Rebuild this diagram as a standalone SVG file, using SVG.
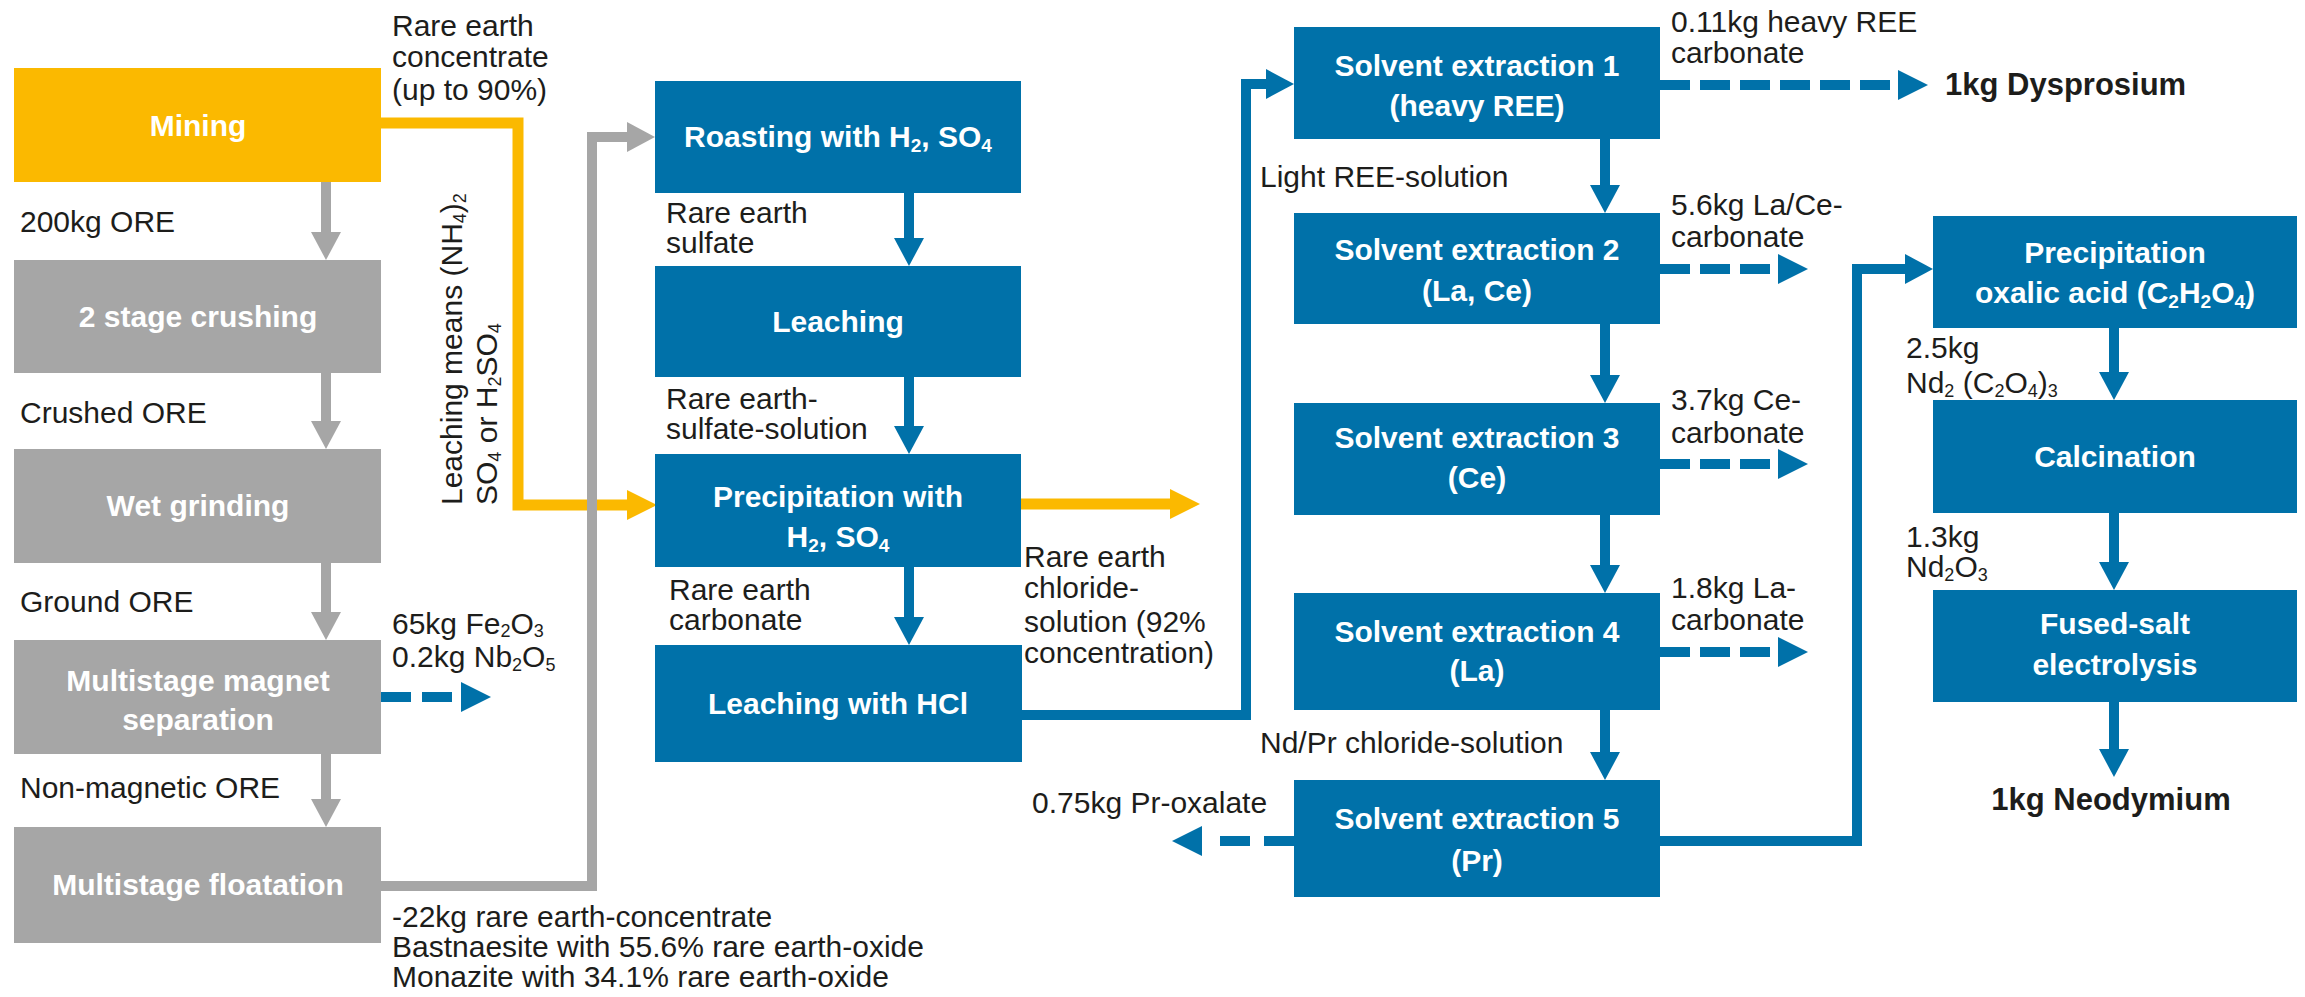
<svg xmlns="http://www.w3.org/2000/svg" width="2305" height="997" viewBox="0 0 2305 997">
<style>
.lbl{font-family:"Liberation Sans",Arial,sans-serif;font-size:30px;fill:#1d1d1b}
.bt{font-family:"Liberation Sans",Arial,sans-serif;font-size:30px;font-weight:bold;fill:#fff;text-anchor:middle}
.end{font-family:"Liberation Sans",Arial,sans-serif;font-size:31px;font-weight:bold;fill:#1d1d1b}
.s{font-size:19px}
.ls{font-size:18px}
.gray{fill:#a6a6a6}
.yel{fill:#fbb900}
.blue{fill:#0071a9}
.cg{fill:none;stroke:#a6a6a6;stroke-width:10;stroke-linejoin:miter}
.cy{fill:none;stroke:#fbb900;stroke-width:11;stroke-linejoin:miter}
.cb{fill:none;stroke:#0071a9;stroke-width:10;stroke-linejoin:miter}
.cd{fill:none;stroke:#0071a9;stroke-width:10;stroke-dasharray:30 10}
</style>
<defs>
<marker id="mg" markerUnits="userSpaceOnUse" markerWidth="28" markerHeight="30" refX="0" refY="15" orient="auto"><path d="M0,0 L28,15 L0,30 Z" fill="#a6a6a6"/></marker>
<marker id="my" markerUnits="userSpaceOnUse" markerWidth="30" markerHeight="30" refX="0" refY="15" orient="auto"><path d="M0,0 L30,15 L0,30 Z" fill="#fbb900"/></marker>
<marker id="mb" markerUnits="userSpaceOnUse" markerWidth="28" markerHeight="30" refX="0" refY="15" orient="auto"><path d="M0,0 L28,15 L0,30 Z" fill="#0071a9"/></marker>
<marker id="md" markerUnits="userSpaceOnUse" markerWidth="38" markerHeight="30" refX="0" refY="15" orient="auto"><path d="M8,0 L38,15 L8,30 Z" fill="#0071a9"/></marker>
</defs>
<rect width="2305" height="997" fill="#fff"/>

<g id="connectors">
<path class="cy" d="M381,123 H518 V505 H627" marker-end="url(#my)"/>
<path class="cg" d="M381,886 H592 V137 H627" marker-end="url(#mg)"/>
<path class="cg" d="M326,182 V232" marker-end="url(#mg)"/>
<path class="cg" d="M326,373 V421" marker-end="url(#mg)"/>
<path class="cg" d="M326,563 V612" marker-end="url(#mg)"/>
<path class="cg" d="M326,754 V799" marker-end="url(#mg)"/>
<path class="cd" d="M381,697 H453" style="stroke-dasharray:30 11" marker-end="url(#md)"/>
<path class="cb" d="M909,193 V238" marker-end="url(#mb)"/>
<path class="cb" d="M909,377 V426" marker-end="url(#mb)"/>
<path class="cb" d="M909,567 V617" marker-end="url(#mb)"/>
<path class="cy" d="M1021,504 H1170" marker-end="url(#my)"/>
<path class="cb" d="M1021,715 H1246 V84 H1266" marker-end="url(#mb)"/>
<path class="cb" d="M1605,139 V185" marker-end="url(#mb)"/>
<path class="cb" d="M1605,324 V375" marker-end="url(#mb)"/>
<path class="cb" d="M1605,515 V565" marker-end="url(#mb)"/>
<path class="cb" d="M1605,710 V752" marker-end="url(#mb)"/>
<path class="cd" d="M1660,85 H1890" marker-end="url(#md)"/>
<path class="cd" d="M1660,269 H1770" marker-end="url(#md)"/>
<path class="cd" d="M1660,464 H1770" marker-end="url(#md)"/>
<path class="cd" d="M1660,652 H1770" marker-end="url(#md)"/>
<path class="cd" d="M1294,841 H1210" style="stroke-dasharray:30 14" marker-end="url(#md)"/>
<path class="cb" d="M1660,841 H1857 V269 H1905" marker-end="url(#mb)"/>
<path class="cb" d="M2114,328 V372" marker-end="url(#mb)"/>
<path class="cb" d="M2114,513 V562" marker-end="url(#mb)"/>
<path class="cb" d="M2114,702 V749" marker-end="url(#mb)"/>
</g>

<g id="mining"><rect class="yel" x="14" y="68" width="367" height="114"/><text class="bt" x="198" y="136">Mining</text></g>
<g id="crushing"><rect class="gray" x="14" y="260" width="367" height="113"/><text class="bt" x="198" y="327">2 stage crushing</text></g>
<g id="grinding"><rect class="gray" x="14" y="449" width="367" height="114"/><text class="bt" x="198" y="516">Wet grinding</text></g>
<g id="magnet"><rect class="gray" x="14" y="640" width="367" height="114"/><text class="bt" x="198" y="691">Multistage magnet</text><text class="bt" x="198" y="730">separation</text></g>
<g id="floatation"><rect class="gray" x="14" y="827" width="367" height="116"/><text class="bt" x="198" y="895">Multistage floatation</text></g>

<g id="roasting"><rect class="blue" x="655" y="81" width="366" height="112"/><text class="bt" x="838" y="147">Roasting with H<tspan class="s" dy="5">2</tspan><tspan dy="-5">, SO</tspan><tspan class="s" dy="5">4</tspan></text></g>
<g id="leaching"><rect class="blue" x="655" y="266" width="366" height="111"/><text class="bt" x="838" y="332">Leaching</text></g>
<g id="precipitation"><rect class="blue" x="655" y="454" width="366" height="113"/><text class="bt" x="838" y="507">Precipitation with</text><text class="bt" x="838" y="547">H<tspan class="s" dy="5">2</tspan><tspan dy="-5">, SO</tspan><tspan class="s" dy="5">4</tspan></text></g>
<g id="leaching-hcl"><rect class="blue" x="655" y="645" width="367" height="117"/><text class="bt" x="838" y="714">Leaching with HCl</text></g>

<g id="se1"><rect class="blue" x="1294" y="27" width="366" height="112"/><text class="bt" x="1477" y="76">Solvent extraction 1</text><text class="bt" x="1477" y="116">(heavy REE)</text></g>
<g id="se2"><rect class="blue" x="1294" y="213" width="366" height="111"/><text class="bt" x="1477" y="260">Solvent extraction 2</text><text class="bt" x="1477" y="301">(La, Ce)</text></g>
<g id="se3"><rect class="blue" x="1294" y="403" width="366" height="112"/><text class="bt" x="1477" y="448">Solvent extraction 3</text><text class="bt" x="1477" y="488">(Ce)</text></g>
<g id="se4"><rect class="blue" x="1294" y="593" width="366" height="117"/><text class="bt" x="1477" y="642">Solvent extraction 4</text><text class="bt" x="1477" y="681">(La)</text></g>
<g id="se5"><rect class="blue" x="1294" y="780" width="366" height="117"/><text class="bt" x="1477" y="829">Solvent extraction 5</text><text class="bt" x="1477" y="871">(Pr)</text></g>

<g id="oxalic"><rect class="blue" x="1933" y="216" width="364" height="112"/><text class="bt" x="2115" y="263">Precipitation</text><text class="bt" x="2115" y="303">oxalic acid (C<tspan class="s" dy="5">2</tspan><tspan dy="-5">H</tspan><tspan class="s" dy="5">2</tspan><tspan dy="-5">O</tspan><tspan class="s" dy="5">4</tspan><tspan dy="-5">)</tspan></text></g>
<g id="calcination"><rect class="blue" x="1933" y="400" width="364" height="113"/><text class="bt" x="2115" y="467">Calcination</text></g>
<g id="electrolysis"><rect class="blue" x="1933" y="590" width="364" height="112"/><text class="bt" x="2115" y="634">Fused-salt</text><text class="bt" x="2115" y="675">electrolysis</text></g>

<g id="labels">
<text class="lbl" x="392" y="36">Rare earth</text>
<text class="lbl" x="392" y="67">concentrate</text>
<text class="lbl" x="392" y="100">(up to 90%)</text>
<text class="lbl" x="20" y="232">200kg ORE</text>
<text class="lbl" x="20" y="423">Crushed ORE</text>
<text class="lbl" x="20" y="612">Ground ORE</text>
<text class="lbl" x="20" y="798">Non-magnetic ORE</text>
<text class="lbl" x="392" y="634">65kg Fe<tspan class="ls" dy="3">2</tspan><tspan dy="-3">O</tspan><tspan class="ls" dy="3">3</tspan></text>
<text class="lbl" x="392" y="667">0.2kg Nb<tspan class="ls" dy="4">2</tspan><tspan dy="-4">O</tspan><tspan class="ls" dy="4">5</tspan></text>
<text class="lbl" x="392" y="927">-22kg rare earth-concentrate</text>
<text class="lbl" x="392" y="957">Bastnaesite with 55.6% rare earth-oxide</text>
<text class="lbl" x="392" y="987">Monazite with 34.1% rare earth-oxide</text>
<text class="lbl" transform="translate(462,505) rotate(-90)">Leaching means (NH<tspan class="ls" dy="4">4</tspan><tspan dy="-4">)</tspan><tspan class="ls" dy="4">2</tspan></text>
<text class="lbl" transform="translate(497,505) rotate(-90)">SO<tspan class="ls" dy="4">4</tspan><tspan dy="-4"> or H</tspan><tspan class="ls" dy="4">2</tspan><tspan dy="-4">SO</tspan><tspan class="ls" dy="4">4</tspan></text>
<text class="lbl" x="666" y="223">Rare earth</text>
<text class="lbl" x="666" y="253">sulfate</text>
<text class="lbl" x="666" y="409">Rare earth-</text>
<text class="lbl" x="666" y="439">sulfate-solution</text>
<text class="lbl" x="669" y="600">Rare earth</text>
<text class="lbl" x="669" y="630">carbonate</text>
<text class="lbl" x="1024" y="567">Rare earth</text>
<text class="lbl" x="1024" y="598">chloride-</text>
<text class="lbl" x="1024" y="632">solution (92%</text>
<text class="lbl" x="1024" y="663">concentration)</text>
<text class="lbl" x="1260" y="187">Light REE-solution</text>
<text class="lbl" x="1260" y="753">Nd/Pr chloride-solution</text>
<text class="lbl" x="1032" y="813">0.75kg Pr-oxalate</text>
<text class="lbl" x="1671" y="32">0.11kg heavy REE</text>
<text class="lbl" x="1671" y="63">carbonate</text>
<text class="lbl" x="1671" y="215">5.6kg La/Ce-</text>
<text class="lbl" x="1671" y="247">carbonate</text>
<text class="lbl" x="1671" y="410">3.7kg Ce-</text>
<text class="lbl" x="1671" y="443">carbonate</text>
<text class="lbl" x="1671" y="598">1.8kg La-</text>
<text class="lbl" x="1671" y="630">carbonate</text>
<text class="lbl" x="1906" y="358">2.5kg</text>
<text class="lbl" x="1906" y="393">Nd<tspan class="ls" dy="4">2</tspan><tspan dy="-4"> (C</tspan><tspan class="ls" dy="4">2</tspan><tspan dy="-4">O</tspan><tspan class="ls" dy="4">4</tspan><tspan dy="-4">)</tspan><tspan class="ls" dy="4">3</tspan></text>
<text class="lbl" x="1906" y="547">1.3kg</text>
<text class="lbl" x="1906" y="577">Nd<tspan class="ls" dy="4">2</tspan><tspan dy="-4">O</tspan><tspan class="ls" dy="4">3</tspan></text>
<text class="end" x="1945" y="95">1kg Dysprosium</text>
<text class="end" x="2111" y="810" text-anchor="middle">1kg Neodymium</text>
</g>
</svg>
